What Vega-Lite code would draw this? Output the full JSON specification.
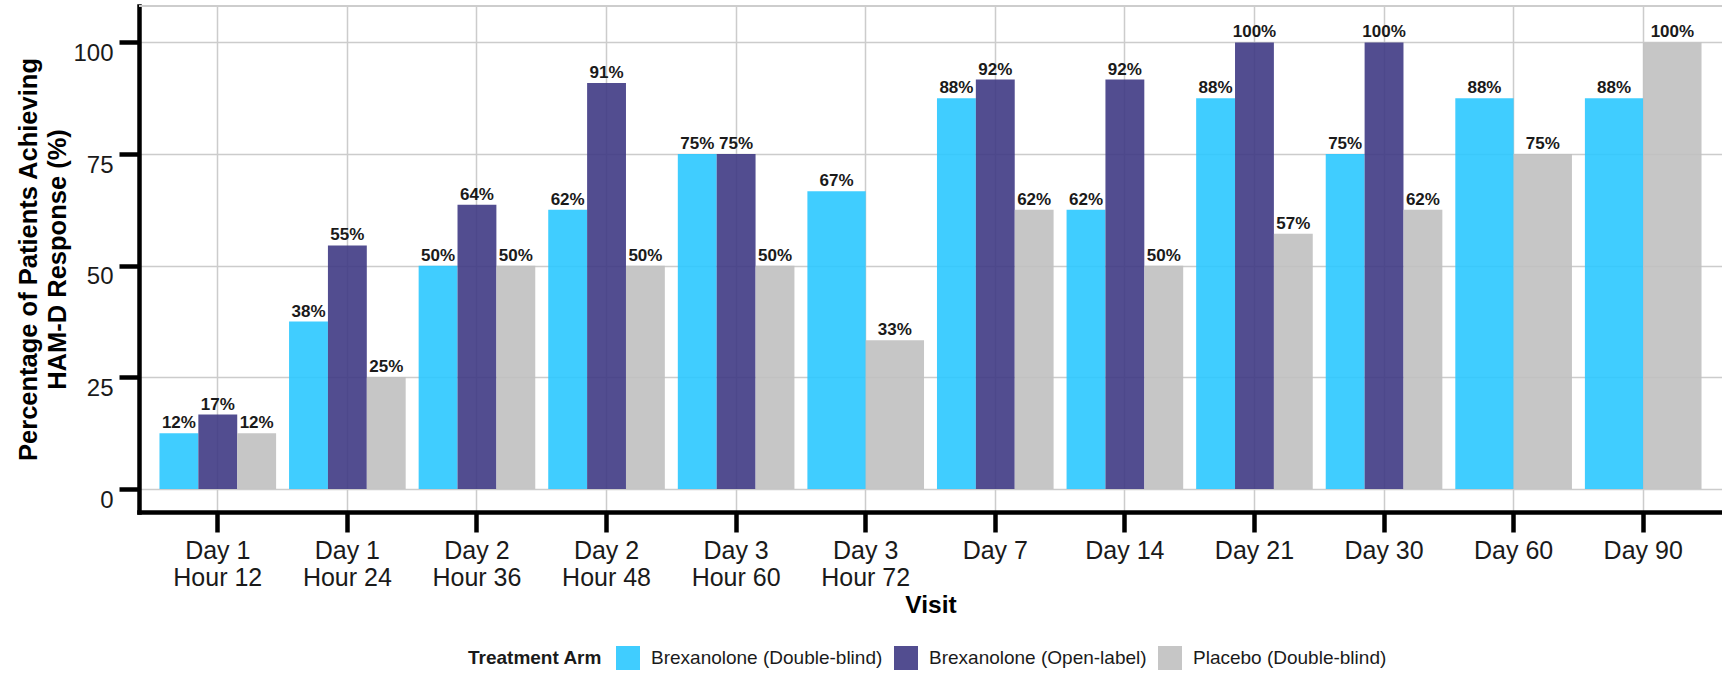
{
  "$schema": "https://vega.github.io/schema/vega-lite/v6.json",
  "width": 1583,
  "height": 506,
  "autosize": {"type": "none"},
  "padding": {"left": 139, "top": 6, "right": 0, "bottom": 161},
  "background": "white",
  "data": {
    "values": [
      {"visit": "Day 1\nHour 12", "arm": "Brexanolone (Double-blind)", "pct": 12.5, "label": "12%"},
      {"visit": "Day 1\nHour 12", "arm": "Brexanolone (Open-label)", "pct": 16.67, "label": "17%"},
      {"visit": "Day 1\nHour 12", "arm": "Placebo (Double-blind)", "pct": 12.5, "label": "12%"},
      {"visit": "Day 1\nHour 24", "arm": "Brexanolone (Double-blind)", "pct": 37.5, "label": "38%"},
      {"visit": "Day 1\nHour 24", "arm": "Brexanolone (Open-label)", "pct": 54.55, "label": "55%"},
      {"visit": "Day 1\nHour 24", "arm": "Placebo (Double-blind)", "pct": 25, "label": "25%"},
      {"visit": "Day 2\nHour 36", "arm": "Brexanolone (Double-blind)", "pct": 50, "label": "50%"},
      {"visit": "Day 2\nHour 36", "arm": "Brexanolone (Open-label)", "pct": 63.64, "label": "64%"},
      {"visit": "Day 2\nHour 36", "arm": "Placebo (Double-blind)", "pct": 50, "label": "50%"},
      {"visit": "Day 2\nHour 48", "arm": "Brexanolone (Double-blind)", "pct": 62.5, "label": "62%"},
      {"visit": "Day 2\nHour 48", "arm": "Brexanolone (Open-label)", "pct": 90.91, "label": "91%"},
      {"visit": "Day 2\nHour 48", "arm": "Placebo (Double-blind)", "pct": 50, "label": "50%"},
      {"visit": "Day 3\nHour 60", "arm": "Brexanolone (Double-blind)", "pct": 75, "label": "75%"},
      {"visit": "Day 3\nHour 60", "arm": "Brexanolone (Open-label)", "pct": 75, "label": "75%"},
      {"visit": "Day 3\nHour 60", "arm": "Placebo (Double-blind)", "pct": 50, "label": "50%"},
      {"visit": "Day 3\nHour 72", "arm": "Brexanolone (Double-blind)", "pct": 66.67, "label": "67%"},
      {"visit": "Day 3\nHour 72", "arm": "Placebo (Double-blind)", "pct": 33.33, "label": "33%"},
      {"visit": "Day 7", "arm": "Brexanolone (Double-blind)", "pct": 87.5, "label": "88%"},
      {"visit": "Day 7", "arm": "Brexanolone (Open-label)", "pct": 91.67, "label": "92%"},
      {"visit": "Day 7", "arm": "Placebo (Double-blind)", "pct": 62.5, "label": "62%"},
      {"visit": "Day 14", "arm": "Brexanolone (Double-blind)", "pct": 62.5, "label": "62%"},
      {"visit": "Day 14", "arm": "Brexanolone (Open-label)", "pct": 91.67, "label": "92%"},
      {"visit": "Day 14", "arm": "Placebo (Double-blind)", "pct": 50, "label": "50%"},
      {"visit": "Day 21", "arm": "Brexanolone (Double-blind)", "pct": 87.5, "label": "88%"},
      {"visit": "Day 21", "arm": "Brexanolone (Open-label)", "pct": 100, "label": "100%"},
      {"visit": "Day 21", "arm": "Placebo (Double-blind)", "pct": 57.14, "label": "57%"},
      {"visit": "Day 30", "arm": "Brexanolone (Double-blind)", "pct": 75, "label": "75%"},
      {"visit": "Day 30", "arm": "Brexanolone (Open-label)", "pct": 100, "label": "100%"},
      {"visit": "Day 30", "arm": "Placebo (Double-blind)", "pct": 62.5, "label": "62%"},
      {"visit": "Day 60", "arm": "Brexanolone (Double-blind)", "pct": 87.5, "label": "88%"},
      {"visit": "Day 60", "arm": "Placebo (Double-blind)", "pct": 75, "label": "75%"},
      {"visit": "Day 90", "arm": "Brexanolone (Double-blind)", "pct": 87.5, "label": "88%"},
      {"visit": "Day 90", "arm": "Placebo (Double-blind)", "pct": 100, "label": "100%"}
    ]
  },
  "layer": [
    {
      "mark": {"type": "rule", "color": "#CCCCCC", "strokeWidth": 1.5},
      "encoding": {"y": {"datum": 108.15, "type": "quantitative"}}
    },
    {
      "transform": [{"filter": {"not": {"field": "visit", "oneOf": ["Day 3\nHour 72", "Day 60", "Day 90"]}}}],
      "encoding": {
        "x": {
          "field": "visit",
          "type": "nominal",
          "scale": {
            "domain": ["Day 1\nHour 12", "Day 1\nHour 24", "Day 2\nHour 36", "Day 2\nHour 48", "Day 3\nHour 60", "Day 3\nHour 72", "Day 7", "Day 14", "Day 21", "Day 30", "Day 60", "Day 90"],
            "paddingInner": 0.1,
            "paddingOuter": 0.158
          },
          "axis": {
            "title": "Visit",
            "labelAngle": 0,
            "labelExpr": "split(datum.label, '\\n')",
            "labelLineHeight": 27,
            "labelBaseline": "top",
            "labelPadding": 6,
            "labelFontSize": 25,
            "bandPosition": 0.5,
            "titleX": 791.5,
            "titleY": 100,
            "titleBaseline": "alphabetic",
            "titleAlign": "center",
            "titleFontSize": 24.5
          }
        },
        "y": {
          "field": "pct",
          "type": "quantitative",
          "scale": {"domain": [-5.15, 108.15], "nice": false, "zero": false},
          "axis": {
            "title": ["Percentage of Patients Achieving", "HAM-D Response (%)"],
            "values": [0, 25, 50, 75, 100],
            "labelOffset": 11,
            "labelPadding": 6,
            "labelFontSize": 24,
            "titleX": -103,
            "titleY": 253,
            "titleAngle": -90,
            "titleAlign": "center",
            "titleBaseline": "alphabetic",
            "titleLineHeight": 29,
            "titleFontSize": 25.5
          }
        },
        "xOffset": {"field": "arm", "type": "nominal", "scale": {"domain": ["Brexanolone (Double-blind)", "Brexanolone (Open-label)", "Placebo (Double-blind)"], "paddingInner": 0, "paddingOuter": 0}}
      },
      "layer": [
        {
          "mark": {"type": "bar", "opacity": 0.9},
          "encoding": {
            "color": {
              "field": "arm",
              "type": "nominal",
              "scale": {"domain": ["Brexanolone (Double-blind)", "Brexanolone (Open-label)", "Placebo (Double-blind)"], "range": ["#2BC8FF", "#3F3A84", "#C0C0C0"]},
              "legend": {
                "title": "Treatment Arm",
                "orient": "none",
                "legendX": 329,
                "legendY": 640,
                "direction": "horizontal",
                "titleOrient": "left",
                "titleFontSize": 19,
                "titleFontWeight": "bold",
                "titleColor": "#1a1a1a",
                "titlePadding": 13,
                "labelFontSize": 19,
                "labelColor": "#1a1a1a",
                "labelLimit": 400,
                "labelOffset": 11,
                "columnPadding": 11,
                "symbolType": "square",
                "symbolSize": 576,
                "symbolStrokeWidth": 0,
                "symbolOpacity": 0.9
              }
            }
          }
        },
        {
          "mark": {"type": "text", "fontWeight": "bold", "fontSize": 17, "baseline": "alphabetic", "dy": -5, "color": "#1a1a1a"},
          "encoding": {"text": {"field": "label"}}
        }
      ]
    },
    {
      "transform": [{"filter": {"field": "visit", "oneOf": ["Day 3\nHour 72", "Day 60", "Day 90"]}}],
      "encoding": {
        "x": {
          "field": "visit",
          "type": "nominal",
          "scale": {
            "domain": ["Day 1\nHour 12", "Day 1\nHour 24", "Day 2\nHour 36", "Day 2\nHour 48", "Day 3\nHour 60", "Day 3\nHour 72", "Day 7", "Day 14", "Day 21", "Day 30", "Day 60", "Day 90"],
            "paddingInner": 0.1,
            "paddingOuter": 0.158
          }
        },
        "y": {
          "field": "pct",
          "type": "quantitative",
          "scale": {"domain": [-5.15, 108.15], "nice": false, "zero": false}
        },
        "xOffset": {"field": "arm", "type": "nominal", "scale": {"domain": ["Brexanolone (Double-blind)", "Placebo (Double-blind)"], "paddingInner": 0, "paddingOuter": 0}}
      },
      "layer": [
        {
          "mark": {"type": "bar", "opacity": 0.9},
          "encoding": {
            "color": {"field": "arm", "type": "nominal"}
          }
        },
        {
          "mark": {"type": "text", "fontWeight": "bold", "fontSize": 17, "baseline": "alphabetic", "dy": -5, "color": "#1a1a1a"},
          "encoding": {"text": {"field": "label"}}
        }
      ]
    }
  ],
  "resolve": {"scale": {"xOffset": "independent"}},
  "config": {
    "font": "Liberation Sans",
    "view": {"stroke": null},
    "axis": {
      "grid": true,
      "gridColor": "#CCCCCC",
      "gridWidth": 1.5,
      "domainColor": "black",
      "domainWidth": 4.5,
      "domainCap": "square",
      "tickColor": "black",
      "tickWidth": 4.5,
      "tickSize": 20,
      "labelFont": "Liberation Sans",
      "labelFontSize": 24,
      "labelColor": "#1a1a1a",
      "titleFont": "Liberation Sans",
      "titleFontSize": 24,
      "titleFontWeight": "bold",
      "titleColor": "black"
    },
    "legend": {"labelFont": "Liberation Sans", "titleFont": "Liberation Sans"}
  }
}
